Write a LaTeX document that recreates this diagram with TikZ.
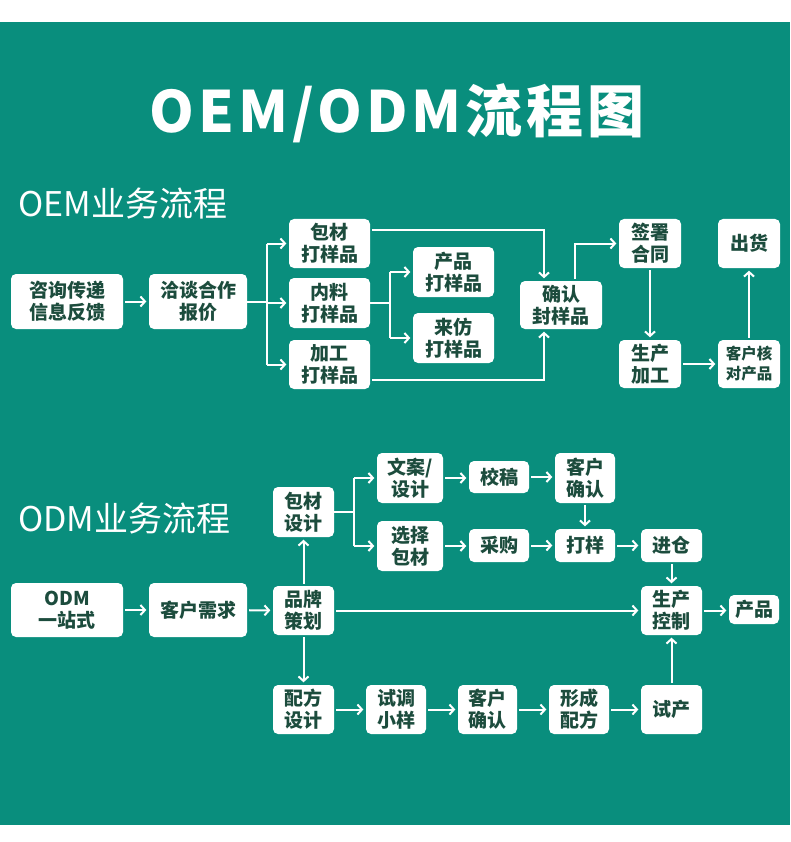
\documentclass[tikz,border=0pt]{standalone}
\usepackage{fontspec}
\setmainfont{Noto Sans CJK SC}
\usetikzlibrary{arrows.meta}
\definecolor{bg}{HTML}{098E7D}
\definecolor{ink}{HTML}{1C4C3D}
\tikzset{
  bx/.style={fill=white, rounded corners=5pt, text=ink, font=\bfseries\fontsize{19}{22}\selectfont,
    align=center, inner sep=0pt},
  sbx/.style={bx, font=\bfseries\fontsize{15.5}{20}\selectfont},
  ar/.style={draw=white, line width=2pt, -{Straight Barb[length=4.5pt,width=10pt]}, shorten >=2.5pt, shorten <=2pt},
  ln/.style={draw=white, line width=2pt},
  sub/.style={text=white, font=\fontsize{34}{38}\selectfont, anchor=base west, inner sep=0pt},
}
\newcommand{\bxat}[6]{\node[#1, minimum width=#4pt, minimum height=#5pt] (#2) at #3 {#6};}
\begin{document}
\begin{tikzpicture}[x=1pt,y=-1pt]
\useasboundingbox (0,0) rectangle (790,842);
\fill[bg] (0,22) rectangle (790,825);
% title
\node[anchor=base, text=white, font=\bfseries\fontsize{57}{62}\selectfont, inner sep=0pt] (tit) at (397,133)
  {\addfontfeature{LetterSpace=7}OEM/ODM流程图};
\node[sub] (oemt) at (18,216) {OEM业务流程};
\node[sub] (odmt) at (18,531) {ODM业务流程};
% OEM boxes
\bxat{bx}{a1}{(67,301.5)}{112}{55}{咨询传递\\信息反馈}
\bxat{bx}{a2}{(198,301.5)}{98}{55}{洽谈合作\\报价}
\bxat{bx}{b1}{(329.5,243.5)}{81}{49}{包材\\打样品}
\bxat{bx}{b2}{(329.5,303)}{81}{50}{内料\\打样品}
\bxat{bx}{b3}{(329.5,364.5)}{81}{49}{加工\\打样品}
\bxat{bx}{c1}{(453.5,272)}{81}{50}{产品\\打样品}
\bxat{bx}{c2}{(453.5,338)}{81}{50}{来仿\\打样品}
\bxat{bx}{d}{(561,305)}{82}{48}{确认\\封样品}
\bxat{bx}{e}{(650,243.5)}{62}{49}{签署\\合同}
\bxat{bx}{f}{(749,243.5)}{62}{49}{出货}
\bxat{bx}{g}{(650,364)}{62}{48}{生产\\加工}
\bxat{sbx}{h}{(749,364)}{62}{48}{客户核\\对产品}
% OEM connectors
\draw[ar] (a1) -- (a2);
\coordinate (j1) at (267,301.5);
\draw[ln] (a2.east) -- (j1);
\draw[ln] (j1 |- b1.west) -- (j1 |- b3.west);
\draw[ar,shorten <=0pt] (j1 |- b1.west) -- (b1.west);
\draw[ar,shorten <=0pt] (j1 |- b2.west) -- (b2.west);
\draw[ar,shorten <=0pt] (j1 |- b3.west) -- (b3.west);
\coordinate (j2) at (390,303);
\draw[ln] (b2.east) -- (j2);
\draw[ln] (j2 |- c1.west) -- (j2 |- c2.west);
\draw[ar,shorten <=0pt] (j2 |- c1.west) -- (c1.west);
\draw[ar,shorten <=0pt] (j2 |- c2.west) -- (c2.west);
\draw[ar] ([yshift=13.5pt]b1.east) -| ([xshift=-17pt]d.north);
\draw[ar] ([yshift=-15.5pt]b3.east) -| ([xshift=-17pt]d.south);
\draw[ar] ([xshift=14pt]d.north) |- (e.west);
\draw[ar] (e) -- (g);
\draw[ar] (g) -- (h);
\draw[ar] (h) -- (f);
% ODM boxes
\bxat{bx}{s1}{(67,610)}{112}{54}{ODM\\一站式}
\bxat{bx}{s2}{(198,610)}{98}{54}{客户需求}
\bxat{bx}{s3}{(303.5,610.5)}{61}{49}{品牌\\策划}
\bxat{bx}{s4}{(303.5,512)}{61}{50}{包材\\设计}
\bxat{bx}{s5}{(303.5,709.5)}{61}{49}{配方\\设计}
\bxat{bx}{t1}{(410,478)}{66}{50}{文案/\\设计}
\bxat{bx}{t2}{(410,546)}{66}{50}{选择\\包材}
\bxat{bx}{t3}{(499,477)}{60}{32}{校稿}
\bxat{bx}{t4}{(585,478)}{60}{50}{客户\\确认}
\bxat{bx}{t5}{(499,545.5)}{60}{33}{采购}
\bxat{bx}{t6}{(585,545.5)}{60}{33}{打样}
\bxat{bx}{t7}{(671.5,545.5)}{61}{33}{进仓}
\bxat{bx}{t8}{(671.5,610.5)}{61}{49}{生产\\控制}
\bxat{bx}{t9}{(754,609.5)}{50}{29}{产品}
\bxat{bx}{u1}{(396,709.5)}{60}{49}{试调\\小样}
\bxat{bx}{u2}{(487.5,709.5)}{59}{49}{客户\\确认}
\bxat{bx}{u3}{(579,709.5)}{60}{49}{形成\\配方}
\bxat{bx}{u4}{(671.5,709.5)}{61}{49}{试产}
% ODM connectors
\draw[ar] (s1) -- (s2);
\draw[ar] (s2) -- (s3);
\draw[ar] (s3) -- (s4);
\draw[ar] (s3) -- (s5);
\coordinate (j3) at (354,512);
\draw[ln] (s4.east) -- (j3);
\draw[ln] (j3 |- t1.west) -- (j3 |- t2.west);
\draw[ar,shorten <=0pt] (j3 |- t1.west) -- (t1.west);
\draw[ar,shorten <=0pt] (j3 |- t2.west) -- (t2.west);
\draw[ar] (t1.east) -- (t3.west |- t1.east);
\draw[ar] (t3) -- (t4.west |- t3);
\draw[ar] (t4) -- (t6);
\draw[ar] (t2.east) -- (t5.west |- t2.east);
\draw[ar] (t5) -- (t6);
\draw[ar] (t6) -- (t7);
\draw[ar] (t7) -- (t8);
\draw[ar] (s3.east) -- (t8.west |- s3.east);
\draw[ar] (t8) -- (t9.west |- t8);
\draw[ar] (u4) -- (t8);
\draw[ar] (s5) -- (u1);
\draw[ar] (u1) -- (u2);
\draw[ar] (u2) -- (u3);
\draw[ar] (u3) -- (u4);
\end{tikzpicture}
\end{document}
